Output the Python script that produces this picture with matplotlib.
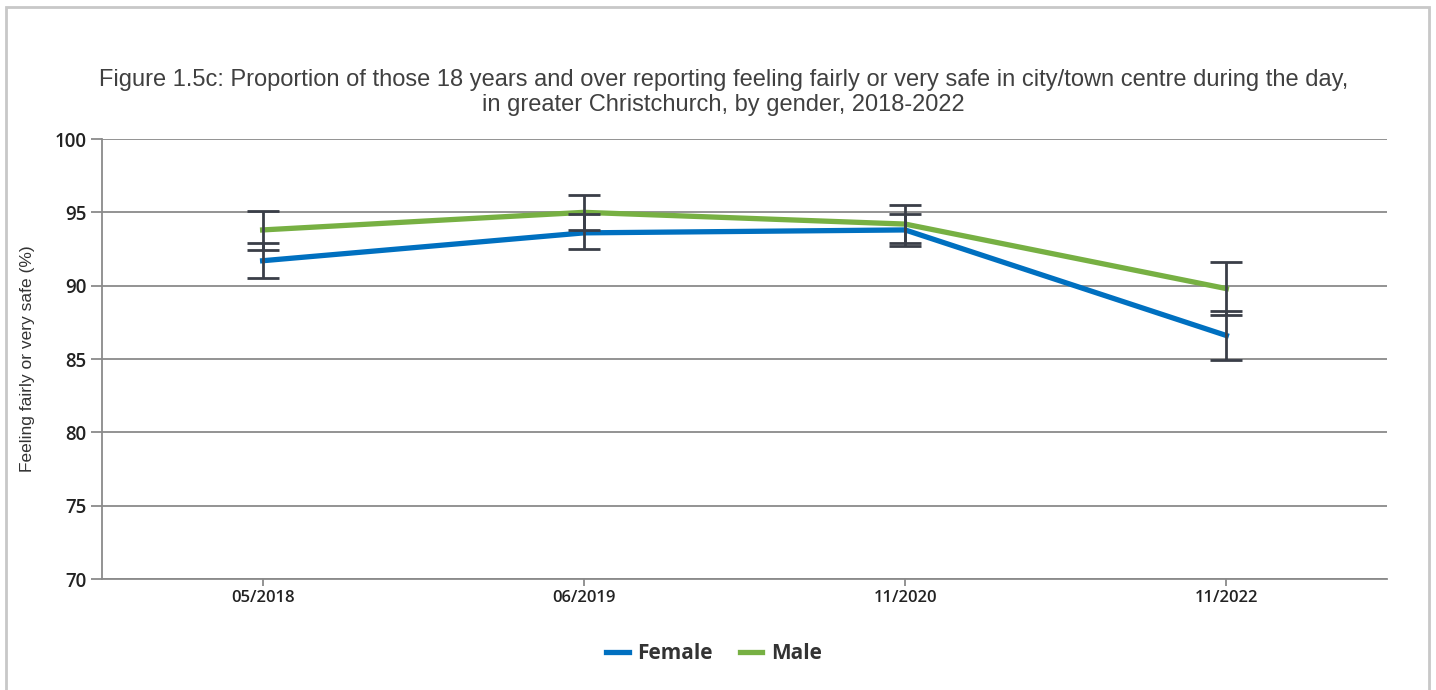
import matplotlib.pyplot as plt
import numpy as np
from matplotlib.patches import Rectangle

periods = ['05/2018', '06/2019', '11/2020', '11/2022']
female = [91.7, 93.6, 93.8, 86.6]
female_lo = [90.5, 92.5, 92.7, 84.9]
female_hi = [92.9, 94.9, 94.9, 88.3]
male = [93.8, 95.0, 94.2, 89.8]
male_lo = [92.4, 93.8, 92.9, 88.0]
male_hi = [95.1, 96.2, 95.5, 91.6]

blue = '#0070c0'
green = '#77b043'
dark = '#3a3e48'

fig = plt.figure(figsize=(14.36, 6.9), dpi=100)
fig.patches.append(Rectangle((6 / 1436, -0.05), 1423 / 1436, 1 - 7 / 690 + 0.05,
                             transform=fig.transFigure, fill=False,
                             edgecolor='#c8c8c8', linewidth=2))

ax = fig.add_axes([102 / 1436, 111 / 690, 1285 / 1436, 440 / 690])
x = np.arange(len(periods)) + 0.5

ax.plot(x, female, color=blue, lw=3.8, label='Female', zorder=3, solid_joinstyle='round')
ax.plot(x, male, color=green, lw=3.8, label='Male', zorder=3, solid_joinstyle='round')

for vals, lo, hi in [(female, female_lo, female_hi), (male, male_lo, male_hi)]:
    v = np.array(vals)
    yerr = [v - np.array(lo), np.array(hi) - v]
    ax.errorbar(x, v, yerr=yerr, fmt='none', ecolor=dark, elinewidth=2,
                capsize=11.5, capthick=2, zorder=4)

ax.set_xlim(0, 4)
ax.set_ylim(70, 100)
ax.set_yticks(range(70, 101, 5))
ax.set_xticks(x)
ax.set_xticklabels(periods)
ax.grid(axis='y', color='#8a8a8a', lw=1.3)
ax.set_axisbelow(True)
for s in ['top', 'right']:
    ax.spines[s].set_visible(False)
for s in ['left', 'bottom']:
    ax.spines[s].set_color('#8a8a8a')
    ax.spines[s].set_linewidth(1.3)
ax.tick_params(axis='y', length=8, width=1.3, color='#8a8a8a', labelsize=13.5,
               labelcolor='#222222', pad=3)
ax.tick_params(axis='x', length=5, width=1.3, color='#8a8a8a', labelsize=12,
               labelcolor='#222222', pad=3)
for t in ax.get_yticklabels() + ax.get_xticklabels():
    t.set_fontfamily('Open Sans')
    t.set_fontweight('semibold')

ax.set_ylabel('Feeling fairly or very safe (%)', fontsize=12.5, color='#333333',
              fontfamily='Liberation Sans', labelpad=14)

fig.text(0.504, 0.866, 'Figure 1.5c: Proportion of those 18 years and over reporting feeling fairly or very safe in city/town centre during the day,\nin greater Christchurch, by gender, 2018-2022',
         ha='center', va='center', fontsize=17, color='#404040',
         fontfamily='Liberation Sans', linespacing=1.22)

leg = fig.legend(loc='center', bbox_to_anchor=(0.497, 0.053), ncol=2, frameon=False,
                 handlelength=1.1, columnspacing=1.3, handletextpad=0.4,
                 prop={'family': 'Open Sans', 'weight': 'bold', 'size': 15})
for t in leg.get_texts():
    t.set_color('#333333')

fig.savefig('out.png', dpi=100)
